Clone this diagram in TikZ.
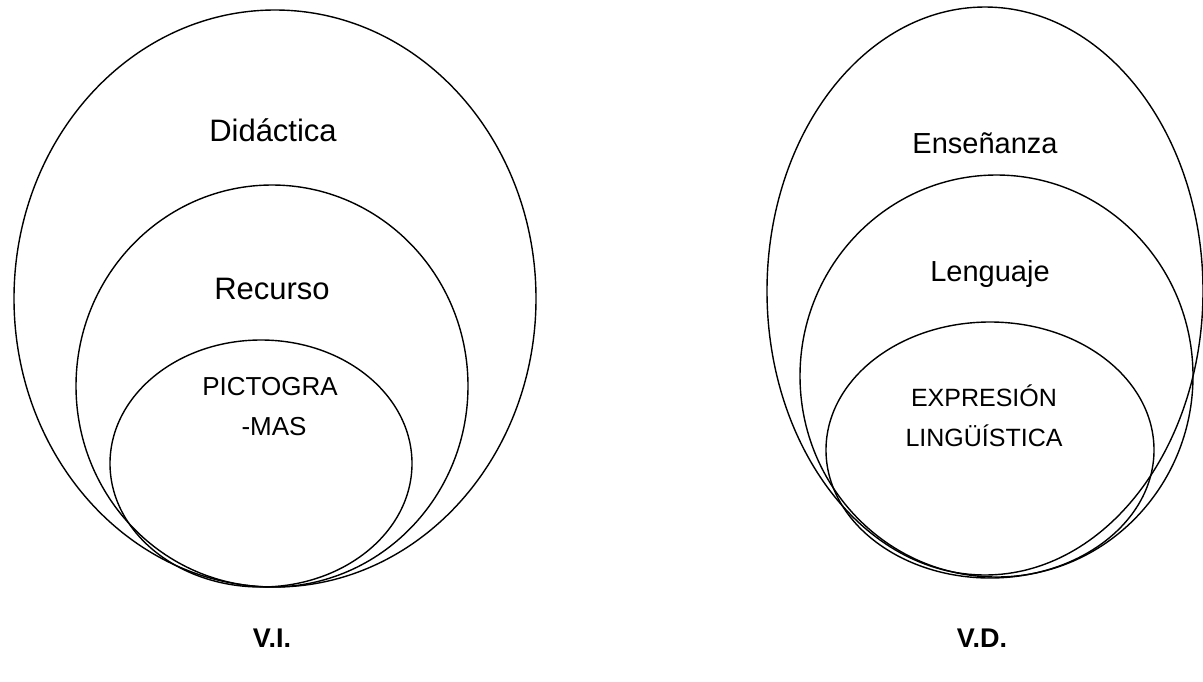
\documentclass[tikz,border=0pt]{standalone}
\usepackage{fontspec}
\setmainfont{Liberation Sans}
\usetikzlibrary{shapes.geometric}
\begin{document}
\begin{tikzpicture}[x=1pt,y=-1pt,
  ring/.style={draw=black,line width=1.4pt,ellipse,inner sep=0pt,fill=none},
  lbl/.style={inner sep=0pt,anchor=base},
  big/.style={lbl,font=\fontsize{31}{36}\selectfont},
  mid/.style={lbl,font=\fontsize{29}{34}\selectfont},
  caps/.style={lbl,font=\fontsize{26}{30}\selectfont},
  small/.style={lbl,font=\fontsize{25}{30}\selectfont},
  var/.style={font=\fontsize{27}{32}\selectfont\bfseries,inner sep=0pt,anchor=base}]
\useasboundingbox (0,0) rectangle (1203,681);
% left group
\node[ring,minimum width=522pt,minimum height=577pt] (lo) at (275,298.5) {};
\node[ring,minimum width=392pt,minimum height=402pt] (lm) at (272,386) {};
\node[ring,minimum width=302pt,minimum height=247pt] (li) at (261,463.5) {};
% right group
\node[ring,minimum width=436pt,minimum height=568pt] (ro) at (985,291) {};
\node[ring,minimum width=393pt,minimum height=402pt] (rm) at (996.5,376) {};
\node[ring,minimum width=328pt,minimum height=256pt] (ri) at (990,450) {};
% labels
\node[big] (t1) at (273,141) {Didáctica};
\node[big] (t2) at (272,299) {Recurso};
\node[caps] (t3) at (270,395) {PICTOGRA};
\node[caps] (t3b) at (274,435) {-MAS};
\node[mid] (u1) at (985,153) {Enseñanza};
\node[mid] (u2) at (990,281) {Lenguaje};
\node[small] (u3) at (984,406) {EXPRESIÓN};
\node[small] (u3b) at (984,446) {LINGÜÍSTICA};
\node[var] (vi) at (272,647) {V.I.};
\node[var] (vd) at (982,647) {V.D.};
\end{tikzpicture}
\end{document}
